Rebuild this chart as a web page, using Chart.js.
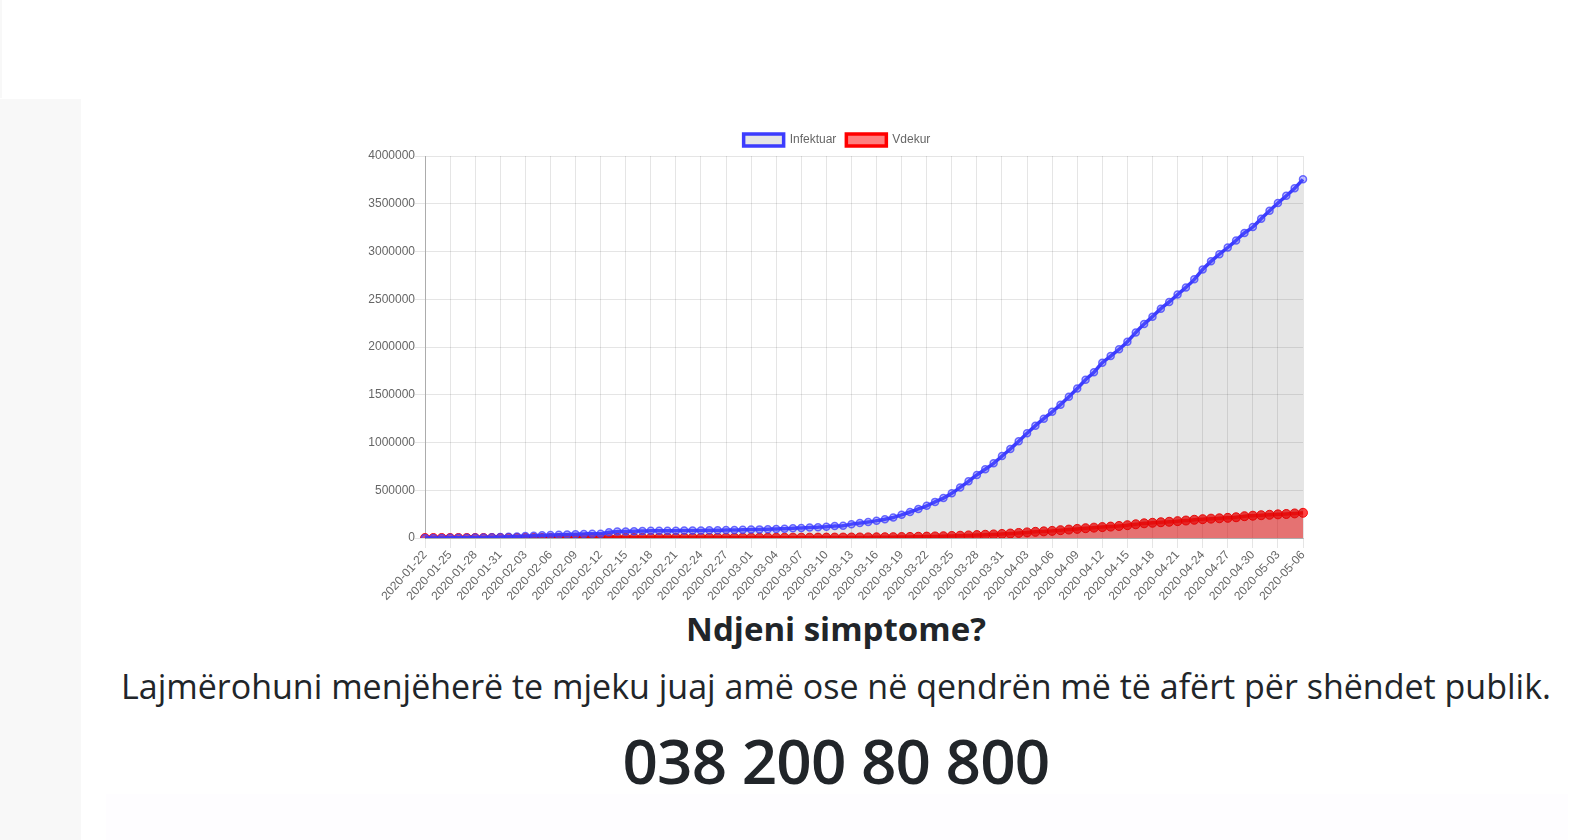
<!DOCTYPE html>
<html>
<head>
<meta charset="utf-8">
<script src="https://cdn.jsdelivr.net/npm/chart.js@4"></script>
<style>
  html,body{margin:0;padding:0;background:#fff;width:1588px;height:840px;overflow:hidden;font-family:"Open Sans",sans-serif;color:#212529;}
  #leftTop{position:absolute;left:0;top:0;width:2px;height:98px;background:#f8f8f8;}
  #leftCol{position:absolute;left:0;top:99px;width:81px;height:741px;background:#f8f8f8;}
  #bottomBand{position:absolute;left:106px;top:794px;width:1462px;height:46px;background:#fefdff;}
  #chartBox{position:absolute;left:361px;top:124px;width:952px;height:480px;}
  .t{position:absolute;left:80px;width:1512px;text-align:center;white-space:nowrap;}
  #h1{top:606px;font-size:33px;font-weight:700;}
  #p1{top:663px;font-size:34px;}
  #ph{top:718px;font-size:62px;font-weight:600;letter-spacing:-0.8px;}
</style>
</head>
<body>
<div id="leftTop"></div>
<div id="leftCol"></div>
<div id="bottomBand"></div>
<div id="chartBox"><canvas id="c" width="952" height="480"></canvas></div>
<div class="t" id="h1">Ndjeni simptome?</div>
<div class="t" id="p1">Lajmërohuni menjëherë te mjeku juaj amë ose në qendrën më të afërt për shëndet publik.</div>
<div class="t" id="ph">038 200 80 800</div>
<script>
const dates = [
"2020-01-22","2020-01-23","2020-01-24","2020-01-25","2020-01-26","2020-01-27","2020-01-28","2020-01-29","2020-01-30","2020-01-31",
"2020-02-01","2020-02-02","2020-02-03","2020-02-04","2020-02-05","2020-02-06","2020-02-07","2020-02-08","2020-02-09","2020-02-10",
"2020-02-11","2020-02-12","2020-02-13","2020-02-14","2020-02-15","2020-02-16","2020-02-17","2020-02-18","2020-02-19","2020-02-20",
"2020-02-21","2020-02-22","2020-02-23","2020-02-24","2020-02-25","2020-02-26","2020-02-27","2020-02-28","2020-02-29",
"2020-03-01","2020-03-02","2020-03-03","2020-03-04","2020-03-05","2020-03-06","2020-03-07","2020-03-08","2020-03-09","2020-03-10",
"2020-03-11","2020-03-12","2020-03-13","2020-03-14","2020-03-15","2020-03-16","2020-03-17","2020-03-18","2020-03-19","2020-03-20",
"2020-03-21","2020-03-22","2020-03-23","2020-03-24","2020-03-25","2020-03-26","2020-03-27","2020-03-28","2020-03-29","2020-03-30","2020-03-31",
"2020-04-01","2020-04-02","2020-04-03","2020-04-04","2020-04-05","2020-04-06","2020-04-07","2020-04-08","2020-04-09","2020-04-10",
"2020-04-11","2020-04-12","2020-04-13","2020-04-14","2020-04-15","2020-04-16","2020-04-17","2020-04-18","2020-04-19","2020-04-20",
"2020-04-21","2020-04-22","2020-04-23","2020-04-24","2020-04-25","2020-04-26","2020-04-27","2020-04-28","2020-04-29","2020-04-30",
"2020-05-01","2020-05-02","2020-05-03","2020-05-04","2020-05-05","2020-05-06"];

const infektuar = [
555,654,941,1434,2118,2927,5578,6166,8234,9927,
12038,16787,19881,23892,27635,30794,34391,37120,40150,42762,
44802,45221,60368,66885,69030,71224,73258,75136,75639,76197,
76819,78572,78958,79561,80406,81388,82746,84112,86011,
88369,90306,92840,95120,97886,101801,105847,109821,113590,118620,
125875,128352,145205,156101,167454,181574,197102,214821,242570,272208,
304507,336953,378235,418045,467653,529591,593291,660706,720117,782365,857487,
932605,1013466,1095917,1176060,1249754,1321481,1396476,1480202,1565278,1657526,
1735650,1834721,1904838,1976191,2056054,2152437,2240190,2317758,2401378,2472259,
2549123,2624090,2708403,2811193,2896746,2971475,3041764,3116398,3193886,3256846,
3343777,3427584,3506729,3583055,3662691,3755341];

const vdekur = [
17,18,26,42,56,82,131,133,171,213,
259,362,426,492,564,634,719,806,906,1013,
1113,1118,1371,1523,1666,1770,1868,2007,2122,2247,
2251,2458,2469,2629,2708,2770,2814,2872,2941,
2996,3085,3160,3254,3348,3460,3558,3802,3988,4262,
4615,4720,5404,5819,6440,7126,7905,8733,9867,11299,
12973,14651,16505,18625,21181,23970,27198,30652,33925,37582,42107,
46809,52983,58787,64606,69374,74565,81865,88338,95455,102525,
108502,114090,119481,125983,134176,143800,153822,159510,165044,169985,
176583,183066,190858,197159,202846,206544,211167,217153,228252,233388,
238650,243401,247470,251537,257239,263831];

const seriesNames = ["Infektuar","Vdekur"];
const yTicks = [0,500000,1000000,1500000,2000000,2500000,3000000,3500000,4000000];
const labelEvery = 3;

Chart.defaults.font.family = "'Liberation Sans', Arial, Helvetica, sans-serif";
Chart.defaults.font.size = 12;
Chart.defaults.color = '#666';

new Chart(document.getElementById('c'), {
  type: 'line',
  data: {
    labels: dates,
    datasets: [
      {
        label: seriesNames[0],
        data: infektuar,
        borderColor: 'rgba(40,40,255,0.9)',
        backgroundColor: 'rgba(0,0,0,0.1)',
        pointBackgroundColor: 'rgba(90,90,255,0.35)',
        pointBorderColor: 'rgba(60,60,255,0.75)',
        pointRadius: 3.5,
        pointBorderWidth: 1.5,
        borderWidth: 3.5,
        tension: 0.4,
        fill: 'origin',
        order: 0
      },
      {
        label: seriesNames[1],
        data: vdekur,
        borderColor: 'rgba(255,0,0,1)',
        backgroundColor: 'rgba(255,0,0,0.5)',
        pointBackgroundColor: 'rgba(255,20,20,0.8)',
        pointBorderColor: 'rgba(255,0,0,0.9)',
        pointRadius: 4.5,
        pointBorderWidth: 1,
        borderWidth: 3.5,
        tension: 0.4,
        fill: 'origin',
        order: 1
      }
    ]
  },
  options: {
    responsive: false,
    animation: false,
    layout: { padding: 0 },
    plugins: {
      legend: {
        display: true,
        labels: { boxWidth: 40, boxHeight: 12, padding: 10, color: '#666', font: { size: 12 } }
      },
      tooltip: { enabled: false }
    },
    scales: {
      x: {
        grid: {
          color: (ctx) => (ctx.index % labelEvery === 0 ? 'rgba(0,0,0,0.1)' : 'rgba(0,0,0,0)'),
          tickLength: 10,
          drawTicks: true
        },
        border: { color: 'rgba(0,0,0,0.25)' },
        ticks: {
          autoSkip: false,
          maxRotation: 48,
          minRotation: 48,
          padding: 0,
          callback: function(v, i) { return i % labelEvery === 0 ? this.getLabelForValue(v) : ''; }
        },
        afterFit: (s) => { s.height = 66; s.paddingRight = 10; }
      },
      y: {
        min: 0,
        max: 4000000,
        afterBuildTicks: (s) => { s.ticks = yTicks.map(v => ({ value: v })); },
        grid: { color: 'rgba(0,0,0,0.1)', tickLength: 10 },
        border: { color: 'rgba(0,0,0,0.25)' },
        ticks: { padding: 0, callback: (v) => String(v) },
        afterFit: (s) => { s.width = 64; }
      }
    }
  }
});
</script>
</body>
</html>
